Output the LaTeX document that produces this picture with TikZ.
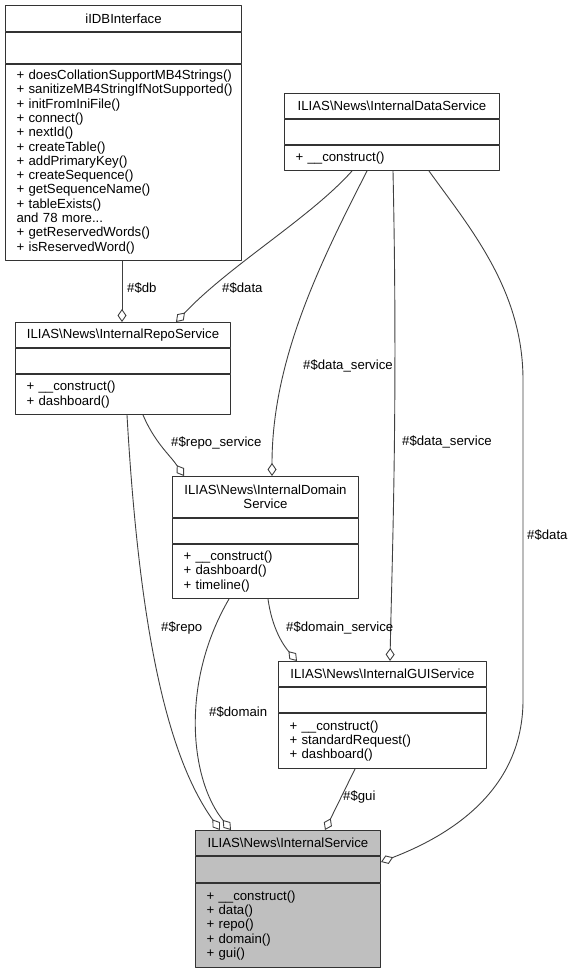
\documentclass[tikz,border=0pt]{standalone}
\usepackage{fontspec}
\setmainfont{Liberation Sans}
\usetikzlibrary{arrows.meta}
\definecolor{edgegray}{HTML}{404040}
\definecolor{boxgray}{HTML}{BFBFBF}
\tikzset{
  head/.style={draw=black!80, line width=1pt, fill=white, anchor=north west, inner sep=0pt},
  attr/.style={head},
  meth/.style={head, align=left, inner xsep=11pt, inner ysep=0pt},
  agg/.style={draw=edgegray, line width=0.9pt, -{Diamond[open, length=13pt, width=9pt, line width=0.9pt]}},
  lbl/.style={anchor=west, inner sep=0pt},
}
\begin{document}
\begin{tikzpicture}[x=1pt, y=-1pt, font=\fontsize{13.2}{14.3}\selectfont, line join=round, line cap=round]
\useasboundingbox (0,0) rectangle (573,971);
% iIDBInterface
\node[head, minimum width=236pt, minimum height=26pt] (db) at (5,5) {iIDBInterface};
\node[attr, minimum width=236pt, minimum height=31pt] (dbA) at (db.south west) {};
\node[meth, text width=214pt, minimum height=196pt] (dbM) at (dbA.south west) {\begin{tabular}{@{}l@{}}+ doesCollationSupportMB4Strings()\\+ sanitizeMB4StringIfNotSupported()\\+ initFromIniFile()\\+ connect()\\+ nextId()\\+ createTable()\\+ addPrimaryKey()\\+ createSequence()\\+ getSequenceName()\\+ tableExists()\\and 78 more...\\+ getReservedWords()\\+ isReservedWord()\end{tabular}};
% ILIAS\News\InternalDataService
\node[head, minimum width=215pt, minimum height=25pt] (data) at (284,93) {ILIAS\textbackslash News\textbackslash InternalDataService};
\node[attr, minimum width=215pt, minimum height=25pt] (dataA) at (data.south west) {};
\node[meth, text width=193pt, minimum height=25pt] (dataM) at (dataA.south west) {+ \_\_construct()};
% ILIAS\News\InternalRepoService
\node[head, minimum width=215pt, minimum height=25pt] (repo) at (15,322) {ILIAS\textbackslash News\textbackslash InternalRepoService};
\node[attr, minimum width=215pt, minimum height=25pt] (repoA) at (repo.south west) {};
\node[meth, text width=193pt, minimum height=40pt] (repoM) at (repoA.south west) {+ \_\_construct()\\+ dashboard()};
% ILIAS\News\InternalDomainService
\node[head, align=center, text width=186pt, minimum height=41pt] (dom) at (172,476) {ILIAS\textbackslash News\textbackslash InternalDomain\\Service};
\node[attr, minimum width=186pt, minimum height=25pt] (domA) at (dom.south west) {};
\node[meth, text width=164pt, minimum height=54pt] (domM) at (domA.south west) {+ \_\_construct()\\+ dashboard()\\+ timeline()};
% ILIAS\News\InternalGUIService
\node[head, minimum width=208pt, minimum height=25pt] (gui) at (278,661) {ILIAS\textbackslash News\textbackslash InternalGUIService};
\node[attr, minimum width=208pt, minimum height=25pt] (guiA) at (gui.south west) {};
\node[meth, text width=186pt, minimum height=55pt] (guiM) at (guiA.south west) {+ \_\_construct()\\+ standardRequest()\\+ dashboard()};
% ILIAS\News\InternalService
\node[head, fill=boxgray, minimum width=185pt, minimum height=25pt] (srv) at (195,830) {ILIAS\textbackslash News\textbackslash InternalService};
\node[attr, fill=boxgray, minimum width=185pt, minimum height=26pt] (srvA) at (srv.south west) {};
\node[meth, fill=boxgray, text width=163pt, minimum height=84pt] (srvM) at (srvA.south west) {+ \_\_construct()\\+ data()\\+ repo()\\+ domain()\\+ gui()};
% aggregations
\coordinate (dr1) at (523,380);
\coordinate (dr2) at (523,700);
\draw[agg] ([xshift=117pt]dbM.south west) -- ([xshift=107pt]repo.north west);
\draw[agg] ([xshift=68pt]dataM.south west) .. controls +(-42,47) and +(54,-57) .. ([xshift=161pt]repo.north west);
\draw[agg] ([xshift=83pt]dataM.south west) .. controls +(-47,92) and +(0,-116) .. ([xshift=100pt]dom.north west);
\draw[agg] ([xshift=109pt]dataM.south west) .. controls +(5,232) and +(2,-101) .. ([xshift=112pt]gui.north west);
\draw[agg] ([xshift=145pt]dataM.south west) .. controls +(41,57) and +(0,-90) .. (dr1) -- (dr2) .. controls +(0,90) and +(70,-27) .. ([yshift=-32pt]srv.north east);
\draw[agg] ([xshift=128pt]repoM.south west) .. controls +(12,28) and +(-14,-21) .. ([xshift=12pt]dom.north west);
\draw[agg] ([xshift=112pt]repoM.south west) .. controls +(13,228) and +(-50,-70) .. ([xshift=25pt]srv.north west);
\draw[agg] ([xshift=57pt]domM.south west) .. controls +(-49,84) and +(-41,-50) .. ([xshift=36pt]srv.north west);
\draw[agg] ([xshift=96pt]domM.south west) .. controls +(4,29) and +(-14,-16) .. ([xshift=19pt]gui.north west);
\draw[agg] ([xshift=77pt]guiM.south west) -- ([xshift=130pt]srv.north west);
% labels
\node[lbl] (lDb) at (127,288) {\#\$db};
\node[lbl] (lData) at (222,288) {\#\$data};
\node[lbl] (lDataSrv) at (303,366) {\#\$data\_service};
\node[lbl] (lDataGui) at (402,442) {\#\$data\_service};
\node[lbl] (lDataInt) at (527,535) {\#\$data};
\node[lbl] (lRepoSrv) at (171,443) {\#\$repo\_service};
\node[lbl] (lRepo) at (161,628) {\#\$repo};
\node[lbl] (lDomain) at (209,712) {\#\$domain};
\node[lbl] (lDomSrv) at (286,628) {\#\$domain\_service};
\node[lbl] (lGui) at (343,797) {\#\$gui};
\end{tikzpicture}
\end{document}
